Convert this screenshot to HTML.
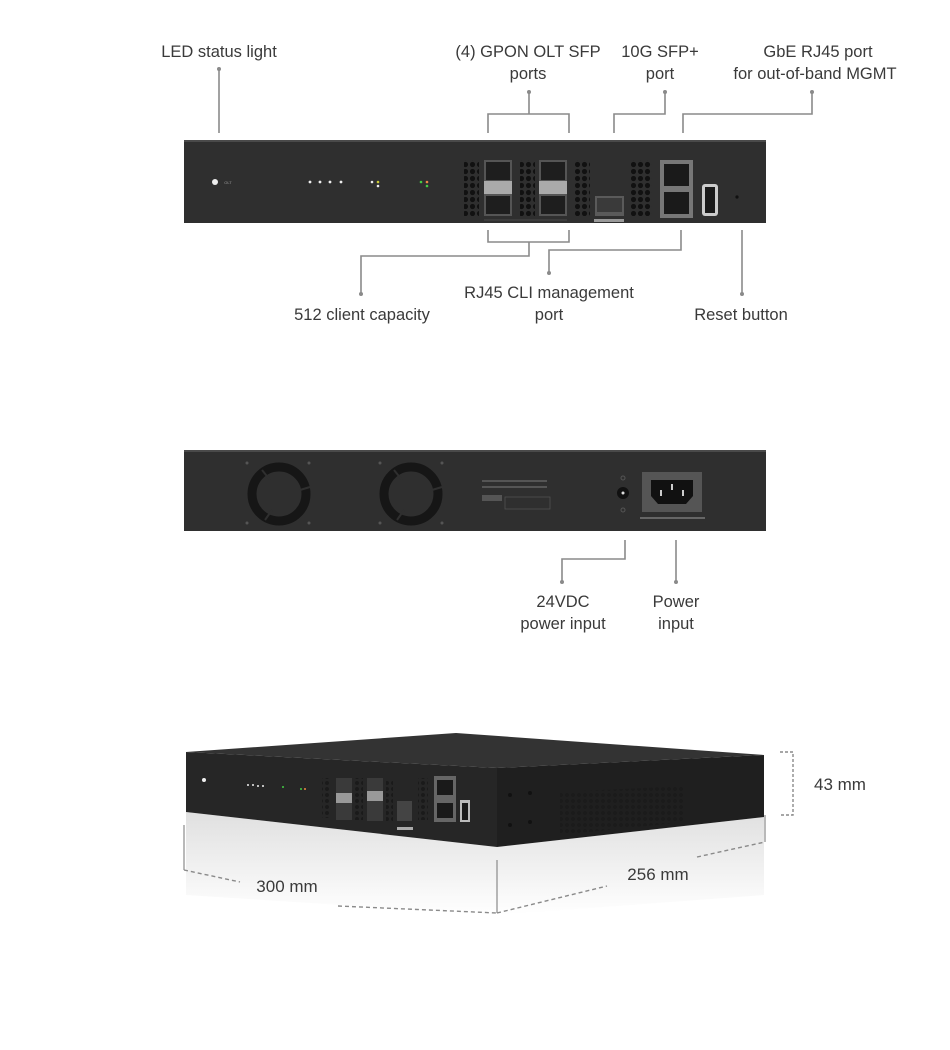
<!DOCTYPE html>
<html><head><meta charset="utf-8"><style>
html,body{margin:0;padding:0;background:#fff;}
svg{display:block;}
text{font-family:"Liberation Sans",sans-serif;font-size:16.5px;fill:#3a3a3a;text-anchor:middle;}
.ln{stroke:#8a8a8a;stroke-width:1.6;fill:none;}
.dot{fill:#8a8a8a;}
.dash{stroke:#8a8a8a;stroke-width:1.4;fill:none;stroke-dasharray:4 3;}
.small{font-size:4px;fill:#999;}
</style></head><body>
<svg width="950" height="1050" viewBox="0 0 950 1050" xmlns="http://www.w3.org/2000/svg">
<defs>
<pattern id="vent" x="0" y="0" width="7" height="7" patternUnits="userSpaceOnUse">
<circle cx="3.5" cy="3.5" r="2.6" fill="#111"/>
</pattern>
<pattern id="vent2" x="0" y="0" width="6" height="6" patternUnits="userSpaceOnUse">
<circle cx="3" cy="3" r="2" fill="#1a1a1a"/>
</pattern>
<linearGradient id="refl" x1="0" y1="0" x2="0" y2="1">
<stop offset="0" stop-color="#d8d8d8"/>
<stop offset="1" stop-color="#fff"/>
</linearGradient>
</defs>

<!-- ===== FRONT PANEL LABELS ===== -->
<text x="219" y="57">LED status light</text>
<line class="ln" x1="219" y1="69" x2="219" y2="133"/><circle class="dot" cx="219" cy="69" r="2"/>

<text x="528" y="57">(4) GPON OLT SFP</text>
<text x="528" y="79">ports</text>
<path class="ln" d="M529 92 V114 M488 133 V114 H569 V133"/><circle class="dot" cx="529" cy="92" r="2"/>

<text x="660" y="57">10G SFP+</text>
<text x="660" y="79">port</text>
<path class="ln" d="M665 92 V114 H614 V133"/><circle class="dot" cx="665" cy="92" r="2"/>

<text x="818" y="57">GbE RJ45 port</text>
<text x="815" y="79">for out-of-band MGMT</text>
<path class="ln" d="M812 92 V114 H683 V133"/><circle class="dot" cx="812" cy="92" r="2"/>

<!-- front panel -->
<rect x="184" y="140" width="582" height="83" fill="#2f2f2f"/>
<rect x="184" y="140" width="582" height="2" fill="#4a4a4a"/>
<circle cx="215" cy="182" r="3" fill="#eee"/>
<text x="228" y="184" class="small">OLT</text>
<g fill="#eee"><circle cx="310" cy="182" r="1.4"/><circle cx="320" cy="182" r="1.4"/><circle cx="330" cy="182" r="1.4"/><circle cx="341" cy="182" r="1.4"/>
<circle cx="372" cy="182" r="1.3"/><circle cx="378" cy="186" r="1.3"/></g>
<circle cx="378" cy="182" r="1.3" fill="#cc3"/>
<circle cx="421" cy="182" r="1.3" fill="#4c4"/><circle cx="427" cy="182" r="1.3" fill="#e84"/><circle cx="427" cy="186" r="1.3" fill="#4c4"/>
<rect x="464" y="160" width="15" height="56" fill="url(#vent)"/>
<rect x="520" y="160" width="15" height="56" fill="url(#vent)"/>
<rect x="575" y="160" width="15" height="56" fill="url(#vent)"/>
<rect x="631" y="160" width="21" height="56" fill="url(#vent)"/>
<g>
<rect x="484" y="160" width="28" height="56" fill="#555"/>
<rect x="486" y="162" width="24" height="18" fill="#1e1e1e"/>
<rect x="484" y="181" width="28" height="13" fill="#aaa"/>
<rect x="486" y="196" width="24" height="18" fill="#1e1e1e"/>
<rect x="539" y="160" width="28" height="56" fill="#555"/>
<rect x="541" y="162" width="24" height="18" fill="#1e1e1e"/>
<rect x="539" y="181" width="28" height="13" fill="#aaa"/>
<rect x="541" y="196" width="24" height="18" fill="#1e1e1e"/>
</g>
<rect x="595" y="196" width="29" height="20" fill="#5a5a5a"/>
<rect x="597" y="198" width="25" height="14" fill="#3a3a3a"/>
<rect x="594" y="219" width="30" height="3" fill="#999"/>
<line x1="484" y1="220" x2="567" y2="220" stroke="#666" stroke-width="0.6"/>
<rect x="660" y="160" width="33" height="58" fill="#777"/>
<rect x="664" y="164" width="25" height="22" fill="#1a1a1a"/>
<rect x="664" y="192" width="25" height="22" fill="#1a1a1a"/>
<rect x="702" y="184" width="16" height="32" rx="3" fill="#ccc"/>
<rect x="705" y="187" width="10" height="26" fill="#1a1a1a"/>
<circle cx="737" cy="197" r="1.6" fill="#111"/>

<!-- bottom front labels -->
<path class="ln" d="M488 230 V242 H569 V230 M529 242 V256 H361 V294"/><circle class="dot" cx="361" cy="294" r="2"/>
<path class="ln" d="M681 230 V250 H549 V273"/><circle class="dot" cx="549" cy="273" r="2"/>
<path class="ln" d="M742 230 V294"/><circle class="dot" cx="742" cy="294" r="2"/>
<text x="362" y="320">512 client capacity</text>
<text x="549" y="298">RJ45 CLI management</text>
<text x="549" y="320">port</text>
<text x="741" y="320">Reset button</text>

<!-- ===== BACK PANEL ===== -->
<rect x="184" y="450" width="582" height="81" fill="#2f2f2f"/>
<rect x="184" y="450" width="582" height="2" fill="#4a4a4a"/>
<g fill="none" stroke="#161616" stroke-width="9">
<circle cx="279" cy="494" r="27"/>
<circle cx="411" cy="494" r="27"/>
</g>
<g stroke="#2f2f2f" stroke-width="2">
<line x1="262" y1="470" x2="270" y2="480"/><line x1="300" y1="490" x2="310" y2="487"/><line x1="272" y1="510" x2="265" y2="520"/>
<line x1="394" y1="470" x2="402" y2="480"/><line x1="432" y1="490" x2="442" y2="487"/><line x1="404" y1="510" x2="397" y2="520"/>
</g>
<g fill="#555"><circle cx="247" cy="463" r="1.5"/><circle cx="309" cy="463" r="1.5"/><circle cx="247" cy="523" r="1.5"/><circle cx="309" cy="523" r="1.5"/>
<circle cx="380" cy="463" r="1.5"/><circle cx="442" cy="463" r="1.5"/><circle cx="380" cy="523" r="1.5"/><circle cx="442" cy="523" r="1.5"/></g>
<rect x="482" y="480" width="65" height="2" fill="#555"/>
<rect x="482" y="486" width="65" height="2" fill="#555"/>
<rect x="482" y="495" width="20" height="6" fill="#555"/>
<rect x="505" y="497" width="45" height="12" fill="none" stroke="#555" stroke-width="0.7"/>
<circle cx="623" cy="493" r="6" fill="#111"/><circle cx="623" cy="493" r="1.5" fill="#ddd"/>
<circle cx="623" cy="478" r="2" fill="none" stroke="#555"/><circle cx="623" cy="510" r="2" fill="none" stroke="#555"/>
<rect x="642" y="472" width="60" height="40" fill="#555"/>
<path d="M651 480 H693 V496 L686 504 H658 L651 496 Z" fill="#111"/>
<rect x="671" y="484" width="2" height="6" fill="#ccc"/><rect x="660" y="490" width="2" height="6" fill="#ccc"/><rect x="682" y="490" width="2" height="6" fill="#ccc"/>
<rect x="640" y="517" width="65" height="2" fill="#666"/>

<path class="ln" d="M625 540 V559 H562 V582"/><circle class="dot" cx="562" cy="582" r="2"/>
<path class="ln" d="M676 540 V582"/><circle class="dot" cx="676" cy="582" r="2"/>
<text x="563" y="607">24VDC</text>
<text x="563" y="629">power input</text>
<text x="676" y="607">Power</text>
<text x="676" y="629">input</text>

<!-- ===== 3D VIEW ===== -->
<polygon points="186,812 497,847 764,817 764,895 497,915 186,895" fill="url(#refl)" opacity="0.8"/>
<polygon points="186,752 456,733 764,755 497,768" fill="#333"/>
<polygon points="186,752 497,768 497,847 186,812" fill="#262626"/>
<polygon points="497,768 764,755 764,817 497,847" fill="#1f1f1f"/>
<polygon points="560,792 685,786 685,822 560,835" fill="url(#vent2)" opacity="0.9"/>
<circle cx="204" cy="780" r="2" fill="#eee"/>
<g fill="#eee"><circle cx="248" cy="785" r="1"/><circle cx="253" cy="785" r="1"/><circle cx="258" cy="786" r="1"/><circle cx="263" cy="786" r="1"/></g>
<circle cx="283" cy="787" r="1" fill="#4c4"/><circle cx="301" cy="789" r="1" fill="#4c4"/><circle cx="305" cy="789" r="1" fill="#e84"/>
<rect x="322" y="778" width="8" height="40" fill="url(#vent2)"/>
<rect x="336" y="778" width="16" height="42" fill="#3a3a3a"/>
<rect x="336" y="793" width="16" height="10" fill="#999"/>
<rect x="355" y="778" width="8" height="42" fill="url(#vent2)"/>
<rect x="367" y="778" width="16" height="43" fill="#3a3a3a"/>
<rect x="367" y="791" width="16" height="10" fill="#999"/>
<rect x="386" y="780" width="7" height="42" fill="url(#vent2)"/>
<rect x="397" y="801" width="15" height="20" fill="#444"/>
<rect x="397" y="827" width="16" height="3" fill="#aaa"/>
<rect x="418" y="778" width="10" height="42" fill="url(#vent2)"/>
<rect x="434" y="776" width="22" height="46" fill="#666"/>
<rect x="437" y="780" width="16" height="15" fill="#1a1a1a"/>
<rect x="437" y="803" width="16" height="15" fill="#1a1a1a"/>
<rect x="460" y="800" width="10" height="22" fill="#bbb"/>
<rect x="462" y="803" width="6" height="17" fill="#1a1a1a"/>
<g fill="#111"><circle cx="510" cy="795" r="2"/><circle cx="530" cy="793" r="2"/><circle cx="510" cy="825" r="2"/><circle cx="530" cy="822" r="2"/></g>

<path class="dash" d="M780 752 H793 V815 H780" style="stroke-dasharray:3 2"/>
<text x="840" y="790" style="font-size:17px">43 mm</text>
<line class="ln" x1="184" y1="825" x2="184" y2="870" style="stroke-width:1.2"/>
<path class="dash" d="M184 870 L240 882 M338 906 L497 913"/>
<line class="ln" x1="497" y1="860" x2="497" y2="913" style="stroke-width:1.2"/>
<path class="dash" d="M497 913 L607 886 M697 857 L765 842"/>
<line class="ln" x1="765" y1="815" x2="765" y2="842" style="stroke-width:1.2"/>
<text x="287" y="892" style="font-size:17px">300 mm</text>
<text x="658" y="880" style="font-size:17px">256 mm</text>
</svg>
</body></html>
